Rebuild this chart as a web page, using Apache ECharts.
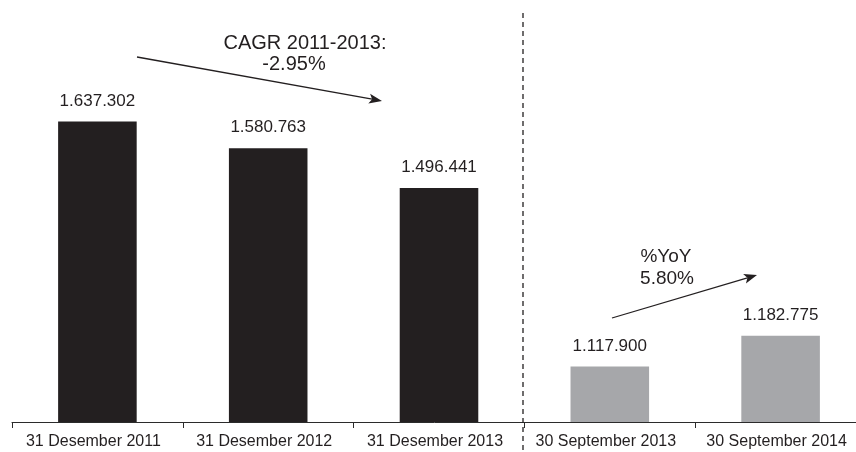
<!DOCTYPE html>
<html>
<head>
<meta charset="utf-8">
<script src="https://cdn.jsdelivr.net/npm/echarts@6/dist/echarts.min.js"></script>
<style>
html,body{margin:0;padding:0;background:#fff;}
#chart{width:856px;height:452px;}
</style>
</head>
<body>
<div id="chart"></div>
<script>
const categories = ['31 Desember 2011', '31 Desember 2012', '31 Desember 2013', '30 September 2013', '30 September 2014'];
const values = [1637302, 1580763, 1496441, 1117900, 1182775];
const barColors = ['#231f20', '#231f20', '#231f20', '#a6a7aa', '#a6a7aa'];
const cagrLabel = ['CAGR 2011-2013:', '-2.95%'];
const yoyLabel = ['%YoY', '5.80%'];

const FONT = '"Liberation Sans", Arial, Helvetica, sans-serif';
const TXT = '#231f20';

function fmt(v) {
  return String(v).replace(/\B(?=(\d{3})+(?!\d))/g, '.');
}

function arrow(x1, y1, x2, y2) {
  const ang = Math.atan2(y2 - y1, x2 - x1);
  const L = 13, W = 5;
  const bx = x2 - L * Math.cos(ang), by = y2 - L * Math.sin(ang);
  const px = -Math.sin(ang) * W, py = Math.cos(ang) * W;
  const back = 3;
  const nx = x2 - (L - back) * Math.cos(ang), ny = y2 - (L - back) * Math.sin(ang);
  return [
    { type: 'line', shape: { x1: x1, y1: y1, x2: nx, y2: ny }, style: { stroke: TXT, lineWidth: 1.3 } },
    { type: 'polygon', shape: { points: [[x2, y2], [bx + px, by + py], [nx, ny], [bx - px, by - py]] }, style: { fill: TXT } }
  ];
}

function txt(s, x, y, size) {
  return { type: 'text', style: { text: s, x: x, y: y, fill: TXT, fontSize: size, fontFamily: FONT, textAlign: 'center', textVerticalAlign: 'middle' } };
}

const chart = echarts.init(document.getElementById('chart'), null, { renderer: 'canvas' });
chart.setOption({
  animation: false,
  backgroundColor: '#ffffff',
  grid: { left: 12, right: -10, top: 92, bottom: 30, containLabel: false, outerBoundsMode: 'none' },
  xAxis: {
    type: 'category',
    data: categories,
    axisLine: { show: true, lineStyle: { color: '#2b2b2b', width: 1 } },
    axisTick: { show: true, length: 6, lineStyle: { color: '#2b2b2b', width: 1 } },
    axisLabel: { color: TXT, fontSize: 16, fontFamily: FONT, margin: 12, interval: 0, padding: [0, 8, 0, 0] }
  },
  yAxis: {
    type: 'value',
    min: 1000000,
    max: 1700000,
    show: false,
    splitLine: { show: false }
  },
  series: [{
    type: 'bar',
    barWidth: '46%',
    data: values.map((v, i) => ({ value: v, itemStyle: { color: barColors[i] } })),
    label: {
      show: true,
      position: 'top',
      distance: 12,
      color: TXT,
      fontSize: 17,
      fontFamily: FONT,
      formatter: p => fmt(p.value)
    }
  }],
  graphic: [
    { type: 'line', shape: { x1: 523, y1: 13, x2: 523, y2: 452 }, style: { stroke: '#231f20', lineWidth: 1.3, lineDash: [5, 4] }, z: 10 },
    ...arrow(137, 57, 382, 101),
    ...arrow(612, 318, 757, 275),
    txt(cagrLabel[0], 305, 43, 20),
    txt(cagrLabel[1], 294, 64, 20),
    txt(yoyLabel[0], 666, 257, 19),
    txt(yoyLabel[1], 667, 279, 19)
  ]
});
</script>
</body>
</html>
